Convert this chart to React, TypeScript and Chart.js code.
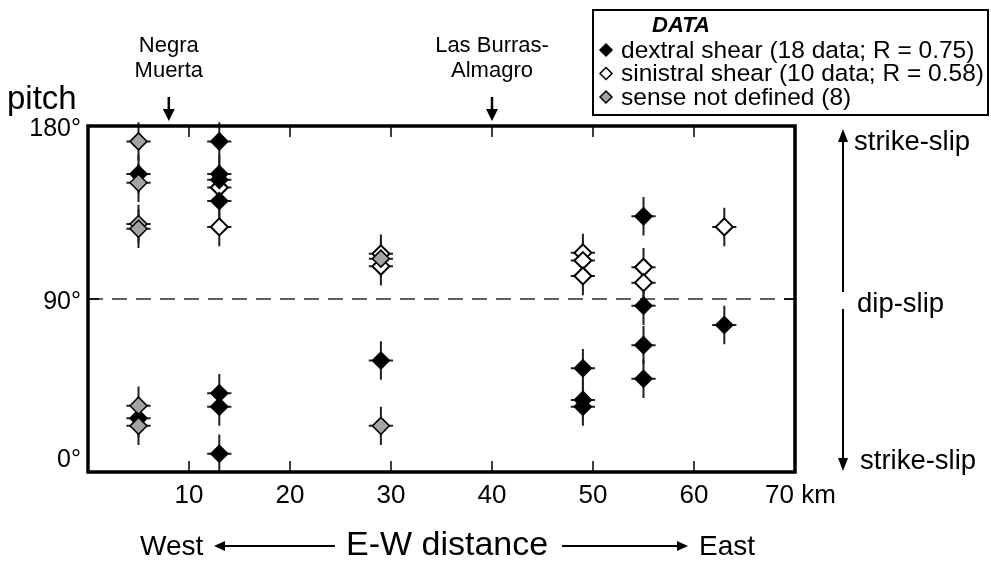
import React, { useEffect, useRef } from "react";
import { Chart, registerables } from "chart.js";

Chart.register(...registerables);

const FONT = '"Liberation Sans", Arial, sans-serif';

// E-W distance (km) and pitch (degrees)
const dextralX = [5, 5, 13, 13, 13, 13, 13, 13, 13, 29, 49, 49, 49, 55, 55, 55, 55, 63];
const dextralY = [155, 28, 172, 155, 152, 141, 41, 34, 9.5, 58, 54, 37.5, 34, 133, 86.5, 66, 48.5, 76.5];

const sinistralX = [13, 13, 29, 29, 49, 49, 49, 55, 55, 63];
const sinistralY = [148, 127.5, 113.5, 107, 114, 110, 102, 106.5, 98.5, 127.5];

const undefinedX = [5, 5, 5, 5, 5, 5, 29, 29];
const undefinedY = [172, 150.5, 129, 126.5, 34.5, 24, 111, 24];

const errX = 1.2; // km
const errY = 10; // degrees

const xTicks = [10, 20, 30, 40, 50, 60, 70];
const xTickLabels = ["10", "20", "30", "40", "50", "60", "70 km"];
const yTicks = [0, 90, 180];
const yTickLabels = ["0°", "90°", "180°"];

const legendLabels = [
  "dextral shear (18 data; R = 0.75)",
  "sinistral shear (10 data; R = 0.58)",
  "sense not defined (8)",
];
const siteNames = [
  { km: 8, lines: ["Negra", "Muerta"] },
  { km: 40, lines: ["Las Burras-", "Almagro"] },
];

const GRAY = "#a3a3a3";

function pts(xs: number[], ys: number[]) {
  return xs.map((x, i) => ({ x, y: ys[i] }));
}

function diamond(ctx: CanvasRenderingContext2D, x: number, y: number, r: number, fill: string) {
  ctx.beginPath();
  ctx.moveTo(x, y - r);
  ctx.lineTo(x + r, y);
  ctx.lineTo(x, y + r);
  ctx.lineTo(x - r, y);
  ctx.closePath();
  ctx.fillStyle = fill;
  ctx.fill();
  ctx.lineWidth = 1.5;
  ctx.strokeStyle = "#000";
  ctx.stroke();
}

function arrowHead(ctx: CanvasRenderingContext2D, x: number, y: number, dir: "up" | "down" | "left" | "right", len = 11, half = 5) {
  ctx.beginPath();
  if (dir === "down") {
    ctx.moveTo(x, y);
    ctx.lineTo(x - half, y - len);
    ctx.lineTo(x + half, y - len);
  } else if (dir === "up") {
    ctx.moveTo(x, y);
    ctx.lineTo(x - half, y + len);
    ctx.lineTo(x + half, y + len);
  } else if (dir === "left") {
    ctx.moveTo(x, y);
    ctx.lineTo(x + len, y - half);
    ctx.lineTo(x + len, y + half);
  } else {
    ctx.moveTo(x, y);
    ctx.lineTo(x - len, y - half);
    ctx.lineTo(x - len, y + half);
  }
  ctx.closePath();
  ctx.fillStyle = "#000";
  ctx.fill();
}

const decor = {
  id: "decor",
  beforeDatasetsDraw(chart: any) {
    const { ctx, chartArea: a, scales } = chart;
    const xs = scales.x;
    const ys = scales.y;
    ctx.save();
    // dashed 90° line
    ctx.strokeStyle = "#5e5e5e";
    ctx.lineWidth = 2;
    ctx.setLineDash([15, 9]);
    ctx.beginPath();
    ctx.moveTo(a.left, ys.getPixelForValue(90));
    ctx.lineTo(a.right, ys.getPixelForValue(90));
    ctx.stroke();
    ctx.setLineDash([]);
    // error bars
    ctx.strokeStyle = "#222";
    ctx.lineWidth = 2;
    const all = [
      pts(dextralX, dextralY),
      pts(sinistralX, sinistralY),
      pts(undefinedX, undefinedY),
    ];
    all.forEach((set) =>
      set.forEach((p) => {
        const px = xs.getPixelForValue(p.x);
        const py = ys.getPixelForValue(p.y);
        ctx.beginPath();
        ctx.moveTo(px, ys.getPixelForValue(p.y - errY));
        ctx.lineTo(px, ys.getPixelForValue(p.y + errY));
        ctx.moveTo(xs.getPixelForValue(p.x - errX), py);
        ctx.lineTo(xs.getPixelForValue(p.x + errX), py);
        ctx.stroke();
      })
    );
    ctx.restore();
  },
  afterDraw(chart: any) {
    const { ctx, chartArea: a, scales } = chart;
    const xs = scales.x;
    const ys = scales.y;
    ctx.save();
    // frame
    ctx.strokeStyle = "#000";
    ctx.lineWidth = 3.5;
    ctx.strokeRect(a.left, a.top, a.right - a.left, a.bottom - a.top);
    // ticks
    ctx.lineWidth = 1.5;
    ctx.beginPath();
    xTicks.forEach((v) => {
      if (v >= 70) return;
      const px = xs.getPixelForValue(v);
      ctx.moveTo(px, a.bottom);
      ctx.lineTo(px, a.bottom - 11);
      ctx.moveTo(px, a.top);
      ctx.lineTo(px, a.top + 11);
    });
    const y90 = ys.getPixelForValue(90);
    ctx.moveTo(a.left, y90);
    ctx.lineTo(a.left + 11, y90);
    ctx.moveTo(a.right, y90);
    ctx.lineTo(a.right - 11, y90);
    ctx.stroke();

    ctx.fillStyle = "#000";
    ctx.textBaseline = "middle";
    // x tick labels
    ctx.font = `26px ${FONT}`;
    xTicks.forEach((v, i) => {
      const px = xs.getPixelForValue(v);
      if (i === xTicks.length - 1) {
        ctx.textAlign = "left";
        ctx.fillText(xTickLabels[i], px - 30, 496);
      } else {
        ctx.textAlign = "center";
        ctx.fillText(xTickLabels[i], px, 496);
      }
    });
    // y tick labels
    ctx.textAlign = "right";
    ctx.font = `25px ${FONT}`;
    yTicks.forEach((v, i) => {
      const py = ys.getPixelForValue(v);
      const dy = v === 0 ? -12 : 3;
      ctx.fillText(yTickLabels[i], a.left - 7, py + dy);
    });
    // pitch
    ctx.textAlign = "left";
    ctx.font = `33px ${FONT}`;
    ctx.fillText("pitch", 7, 100);

    // site labels + arrows
    ctx.font = `22px ${FONT}`;
    ctx.textAlign = "center";
    siteNames.forEach((s) => {
      const px = xs.getPixelForValue(s.km);
      ctx.fillText(s.lines[0], px, 46);
      ctx.fillText(s.lines[1], px, 71);
      ctx.lineWidth = 2.5;
      ctx.beginPath();
      ctx.moveTo(px, 97);
      ctx.lineTo(px, 112);
      ctx.stroke();
      arrowHead(ctx, px, 121, "down", 12, 6);
    });

    // bottom axis title with arrows
    ctx.textAlign = "left";
    ctx.font = `28px ${FONT}`;
    ctx.fillText("West", 140, 547);
    ctx.fillText("East", 699, 547);
    ctx.font = `34px ${FONT}`;
    ctx.fillText("E-W distance", 346, 546);
    ctx.lineWidth = 2;
    ctx.beginPath();
    ctx.moveTo(222, 546);
    ctx.lineTo(335, 546);
    ctx.moveTo(562, 546);
    ctx.lineTo(680, 546);
    ctx.stroke();
    arrowHead(ctx, 214, 546, "left", 11, 5);
    arrowHead(ctx, 688, 546, "right", 11, 5);

    // right side double arrow
    const ax = 843;
    ctx.lineWidth = 2;
    ctx.beginPath();
    ctx.moveTo(ax, 140);
    ctx.lineTo(ax, 292);
    ctx.moveTo(ax, 309);
    ctx.lineTo(ax, 460);
    ctx.stroke();
    arrowHead(ctx, ax, 129, "up", 13, 5);
    arrowHead(ctx, ax, 471, "down", 13, 5);
    ctx.font = `27.5px ${FONT}`;
    ctx.textAlign = "left";
    ctx.fillText("strike-slip", 854, 142);
    ctx.fillText("dip-slip", 857, 304);
    ctx.fillText("strike-slip", 860, 461);

    // legend box
    ctx.fillStyle = "#fff";
    ctx.fillRect(593, 10, 395, 105);
    ctx.lineWidth = 2;
    ctx.strokeStyle = "#000";
    ctx.strokeRect(593, 10, 395, 105);
    ctx.fillStyle = "#000";
    ctx.font = `italic bold 22px ${FONT}`;
    ctx.textAlign = "left";
    ctx.fillText("DATA", 652, 26);
    ctx.font = `24.5px ${FONT}`;
    const fills = ["#000", "#fff", GRAY];
    legendLabels.forEach((lab, i) => {
      const y = 50 + i * 23.5;
      diamond(ctx, 606, y, 6, fills[i]);
      ctx.fillStyle = "#000";
      ctx.fillText(lab, 621, y + 1);
    });
    ctx.restore();
  },
};

export default function App() {
  const ref = useRef<HTMLCanvasElement>(null);
  useEffect(() => {
    const chart = new Chart(ref.current!, {
      type: "scatter",
      data: {
        datasets: [
          {
            label: legendLabels[2],
            data: pts(undefinedX, undefinedY),
            pointStyle: "rectRot",
            pointRadius: 8.5,
            backgroundColor: GRAY,
            borderColor: "#000",
            borderWidth: 1.5,
            clip: false as any,
          },
          {
            label: legendLabels[0],
            data: pts(dextralX, dextralY),
            pointStyle: "rectRot",
            pointRadius: 8.5,
            backgroundColor: "#000",
            borderColor: "#000",
            borderWidth: 1.5,
            clip: false as any,
          },
          {
            label: legendLabels[1],
            data: pts(sinistralX, sinistralY),
            pointStyle: "rectRot",
            pointRadius: 8.5,
            backgroundColor: "#fff",
            borderColor: "#000",
            borderWidth: 2,
            clip: false as any,
          },
        ],
      },
      options: {
        animation: false,
        responsive: false,
        events: [],
        layout: { padding: { left: 88, top: 126, right: 196, bottom: 92 } },
        plugins: { legend: { display: false }, tooltip: { enabled: false } },
        scales: {
          x: { type: "linear", min: 0, max: 70, display: false },
          y: { type: "linear", min: 0, max: 180, display: false },
        },
      },
      plugins: [decor],
    });
    return () => chart.destroy();
  }, []);
  return (
    <div style={{ position: "absolute", left: 0, top: 0, width: 991, height: 564, background: "#fff" }}>
      <canvas ref={ref} width={991} height={564} style={{ width: 991, height: 564, display: "block" }} />
    </div>
  );
}
